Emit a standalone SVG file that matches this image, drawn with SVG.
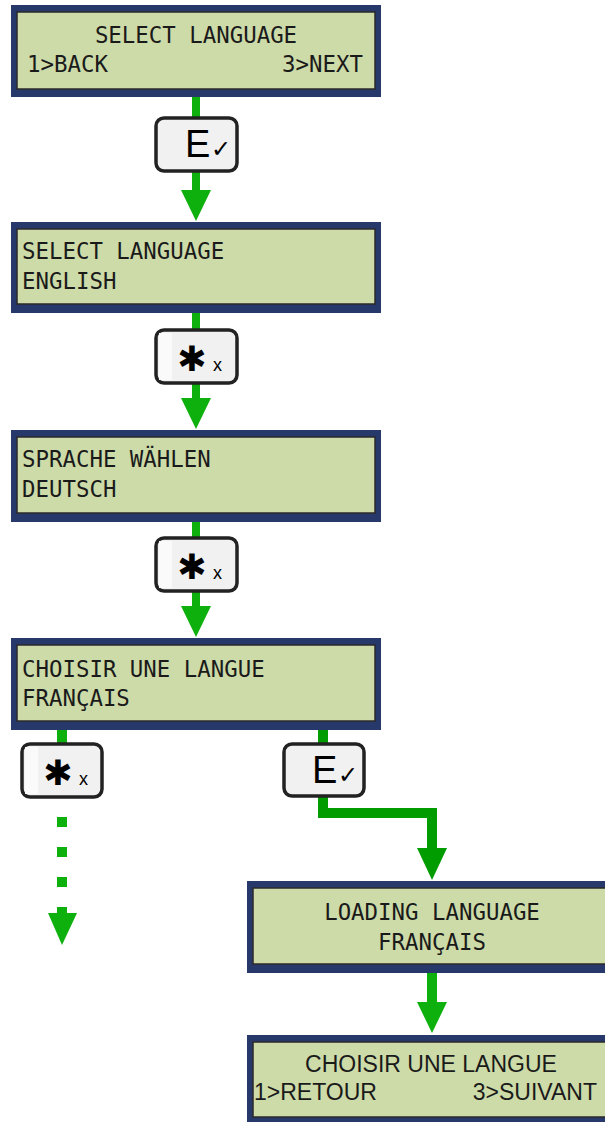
<svg xmlns="http://www.w3.org/2000/svg" width="605" height="1122" viewBox="0 0 605 1122">
<style>
.frame{fill:#27386a}
.lcd{fill:#cddba8;stroke:#2a2a2a;stroke-width:1.5}
.t{font-family:"DejaVu Sans Mono",monospace;font-size:22.4px;fill:#1a1a1a}
.ts{font-family:"Liberation Sans",Arial,sans-serif;font-size:23px;fill:#1a1a1a}
.key{fill:#f1f1f1;stroke:#222;stroke-width:3.5}
.keyhl{fill:#fafafa}
.kE{font-family:"Liberation Sans",Arial,sans-serif;font-size:38px;fill:#000}
.kc{font-family:"DejaVu Sans",sans-serif;font-size:24px;fill:#000}
.ka{font-family:"DejaVu Sans",sans-serif;font-size:35px;fill:#000}
.kx{font-family:"Liberation Sans",Arial,sans-serif;font-size:18px;fill:#000}
.g1{stroke:#0db00d;fill:none}
.g2{stroke:#009c00;fill:none}
.h1{fill:#0db00d}
.h2{fill:#009c00}
</style>
<g id="connectors">
  <line class="g1" x1="196" y1="96" x2="196" y2="192" stroke-width="8"/>
  <polygon class="h1" points="181,190 211,190 196,221"/>
  <line class="g1" x1="196" y1="312" x2="196" y2="400" stroke-width="8"/>
  <polygon class="h1" points="181,398 211,398 196,429"/>
  <line class="g1" x1="196" y1="520" x2="196" y2="608" stroke-width="8"/>
  <polygon class="h1" points="181,606 211,606 196,637"/>
  <line class="g1" x1="62" y1="729" x2="62" y2="745" stroke-width="10"/>
  <rect class="h1" x="57" y="817" width="10" height="10"/>
  <rect class="h1" x="57" y="847" width="10" height="10"/>
  <rect class="h1" x="57" y="877" width="10" height="10"/>
  <rect class="h1" x="57" y="907" width="10" height="7"/>
  <polygon class="h1" points="48,913 77,913 62,945"/>
  <line class="g2" x1="323" y1="729" x2="323" y2="745" stroke-width="10"/>
  <polyline class="g2" points="323,796 323,813 432,813 432,850" stroke-width="10"/>
  <polygon class="h2" points="417,848 447,848 432,880"/>
  <line class="g1" x1="432" y1="972" x2="432" y2="1004" stroke-width="10"/>
  <polygon class="h1" points="417,1002 447,1002 432,1033"/>
</g>
<g id="screen1">
  <rect class="frame" x="11" y="5" width="370" height="92"/>
  <rect class="lcd" x="17" y="12" width="358" height="77"/>
  <text class="t" x="196" y="43" text-anchor="middle">SELECT LANGUAGE</text>
  <text class="t" x="27" y="72">1&gt;BACK</text>
  <text class="t" x="363" y="72" text-anchor="end">3&gt;NEXT</text>
</g>
<g id="key1">
  <rect class="key" x="156" y="118" width="81" height="53" rx="8"/>
  <text class="kE" x="185" y="157">E</text>
  <text class="kc" x="211" y="157">✓</text>
</g>
<g id="screen2">
  <rect class="frame" x="11" y="222" width="370" height="91"/>
  <rect class="lcd" x="17" y="229" width="358" height="75"/>
  <text class="t" x="22" y="259">SELECT LANGUAGE</text>
  <text class="t" x="22" y="289">ENGLISH</text>
</g>
<g id="key2">
  <rect class="key" x="156" y="330" width="81" height="53" rx="8"/>
  <rect class="keyhl" x="159" y="333" width="13" height="47"/>
  <text class="ka" x="192" y="371" text-anchor="middle">✱</text>
  <text class="kx" x="213" y="371">x</text>
</g>
<g id="screen3">
  <rect class="frame" x="11" y="430" width="370" height="92"/>
  <rect class="lcd" x="17" y="437" width="358" height="76"/>
  <text class="t" x="22" y="467">SPRACHE WÄHLEN</text>
  <text class="t" x="22" y="497">DEUTSCH</text>
</g>
<g id="key3">
  <rect class="key" x="156" y="538" width="81" height="53" rx="8"/>
  <rect class="keyhl" x="159" y="541" width="13" height="47"/>
  <text class="ka" x="192" y="579" text-anchor="middle">✱</text>
  <text class="kx" x="213" y="579">x</text>
</g>
<g id="screen4">
  <rect class="frame" x="11" y="638" width="370" height="92"/>
  <rect class="lcd" x="17" y="645" width="358" height="76"/>
  <text class="t" x="22" y="677">CHOISIR UNE LANGUE</text>
  <text class="t" x="22" y="706">FRANÇAIS</text>
</g>
<g id="key4">
  <rect class="key" x="22" y="744" width="80" height="53" rx="8"/>
  <rect class="keyhl" x="25" y="747" width="13" height="47"/>
  <text class="ka" x="58" y="785" text-anchor="middle">✱</text>
  <text class="kx" x="79" y="785">x</text>
</g>
<g id="key5">
  <rect class="key" x="284" y="744" width="80" height="52" rx="8"/>
  <text class="kE" x="312" y="783">E</text>
  <text class="kc" x="338" y="783">✓</text>
</g>
<g id="screen5">
  <rect class="frame" x="247" y="881" width="370" height="92"/>
  <rect class="lcd" x="253" y="888" width="370" height="76"/>
  <text class="t" x="432" y="920" text-anchor="middle">LOADING LANGUAGE</text>
  <text class="t" x="432" y="950" text-anchor="middle">FRANÇAIS</text>
</g>
<g id="screen6">
  <rect class="frame" x="247" y="1035" width="370" height="92"/>
  <rect class="lcd" x="253" y="1042" width="370" height="75"/>
  <text class="ts" x="431" y="1072" text-anchor="middle">CHOISIR UNE LANGUE</text>
  <text class="ts" x="254" y="1100">1&gt;RETOUR</text>
  <text class="ts" x="597" y="1100" text-anchor="end">3&gt;SUIVANT</text>
</g>
</svg>
